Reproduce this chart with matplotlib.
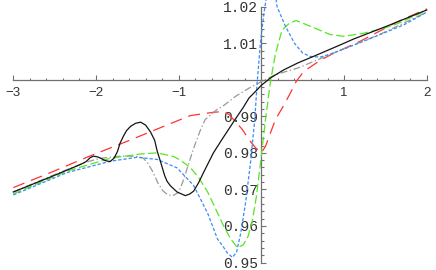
import numpy as np
import matplotlib
matplotlib.use("Agg")
import matplotlib.pyplot as plt
from matplotlib.ticker import FixedLocator

# values
red_x = [-3.00, -2.55, -2.10, -1.62, -1.22, -0.86, -0.58, -0.47, -0.39, -0.23, -0.15, -0.07,
         0.00, 0.05, 0.17, 0.26, 0.34, 0.42, 0.50, 0.56, 0.71, 0.87, 1.20, 1.64, 2.00]
red_y = [0.9705, 0.9746, 0.9789, 0.9832, 0.9869, 0.9902, 0.9911, 0.9913, 0.9905, 0.9864, 0.9836, 0.9814,
         0.9800, 0.9818, 0.9891, 0.9926, 0.9959, 0.9995, 1.0019, 1.0030, 1.0053, 1.0072, 1.0106, 1.0158, 1.0194]

black_x = [-3.00, -2.55, -2.19, -2.12, -2.07, -2.03, -1.98, -1.95, -1.89, -1.83, -1.78, -1.74, -1.71,
           -1.67, -1.63, -1.58, -1.52, -1.46, -1.40, -1.34, -1.29, -1.26, -1.22, -1.17, -1.14, -1.10,
           -1.02, -0.92, -0.87, -0.82, -0.76, -0.70, -0.58, -0.47, -0.31, -0.22, -0.15, -0.05, 0.00,
           0.11, 0.27, 0.44, 0.63, 0.96, 1.11, 1.52, 2.00]
black_y = [0.9693, 0.9734, 0.9768, 0.9776, 0.9787, 0.9791, 0.9789, 0.9786, 0.9779, 0.9776, 0.9786, 0.9804, 0.9826,
           0.9845, 0.9861, 0.9873, 0.9881, 0.9884, 0.9876, 0.9857, 0.9834, 0.9805, 0.9776, 0.9738, 0.9722, 0.9710,
           0.9693, 0.9683, 0.9687, 0.9695, 0.9718, 0.9746, 0.9800, 0.9839, 0.9894, 0.9924, 0.9950, 0.9973, 0.9985,
           1.0005, 1.0027, 1.0046, 1.0064, 1.0096, 1.0111, 1.0147, 1.0191]

gray_x = [-3.00, -2.55, -2.13, -1.95, -1.71, -1.52, -1.43, -1.37, -1.31, -1.25, -1.19, -1.13, -1.07,
          -1.00, -0.94, -0.89, -0.82, -0.74, -0.68, -0.53, -0.47, -0.31, -0.15, 0.00, 0.17, 0.44,
          0.63, 0.96, 1.44, 2.00]
gray_y = [0.9693, 0.9736, 0.9774, 0.9785, 0.9791, 0.9791, 0.9786, 0.9771, 0.9747, 0.9717, 0.9696, 0.9685, 0.9683,
          0.9692, 0.9727, 0.9763, 0.9812, 0.9861, 0.9891, 0.9920, 0.9927, 0.9955, 0.9977, 0.9995, 1.0014, 1.0032,
          1.0050, 1.0081, 1.0125, 1.0185]

green_x = [-3.00, -2.35, -1.83, -1.46, -1.26, -1.06, -0.98, -0.86, -0.76, -0.65, -0.52, -0.47, -0.37,
           -0.29, -0.22, -0.16, -0.11, -0.06, -0.01, 0.05, 0.11, 0.17, 0.25, 0.34, 0.42, 0.50, 0.67,
           0.83, 0.99, 1.23, 1.48, 1.64, 2.00]
green_y = [0.9688, 0.9750, 0.9785, 0.9797, 0.9800, 0.9790, 0.9780, 0.9760, 0.9733, 0.9693, 0.9631, 0.9606, 0.9564,
           0.9541, 0.9548, 0.9572, 0.9613, 0.9681, 0.9774, 0.9891, 0.9995, 1.0071, 1.0136, 1.0155, 1.0162, 1.0155, 1.0139,
           1.0124, 1.0119, 1.0127, 1.0141, 1.0153, 1.0190]

blue_x = [-3.00, -2.35, -1.83, -1.50, -1.26, -1.02, -0.82, -0.65, -0.53, -0.47, -0.41, -0.35, -0.30,
          -0.25, -0.19, -0.13, -0.08, -0.05, -0.01, 0.03, 0.06, 0.09, 0.12, 0.16, 0.19, 0.29, 0.40,
          0.50, 0.59, 0.71, 0.83, 0.96, 1.32, 1.72, 2.00]
blue_y = [0.9685, 0.9746, 0.9777, 0.9788, 0.9782, 0.9759, 0.9711, 0.9635, 0.9564, 0.9546, 0.9526, 0.9514, 0.9528,
          0.9580, 0.9665, 0.9776, 0.9891, 0.9995, 1.0104, 1.0180, 1.0225, 1.0250, 1.0262, 1.0250, 1.0200, 1.0147, 1.0100,
          1.0073, 1.0064, 1.0062, 1.0070, 1.0081, 1.0113, 1.0150, 1.0185]

x_ticks = [-3, -2, -1, 1, 2]
x_tick_labels = ["\u22123", "\u22122", "\u22121", "1", "2"]
y_ticks = [0.95, 0.96, 0.97, 0.98, 0.99, 1.01, 1.02]
y_tick_labels = ["0.95", "0.96", "0.97", "0.98", "0.99", "1.01", "1.02"]

plt.rcParams['lines.scale_dashes'] = False

fig = plt.figure(figsize=(4.36, 2.70), dpi=100)
ax = fig.add_axes([0, 0, 1, 1])
ax.set_xlim(-3.161, 2.112)
ax.set_ylim(0.94795, 1.02183)

lw = 0.9
ax.plot(red_x, red_y, color='#ff3333', lw=lw, dashes=(8.6, 5.0), zorder=3)
ax.plot(gray_x, gray_y, color='#999999', lw=lw, dashes=(5.0, 1.8, 1.0, 1.8), zorder=3)
ax.plot(green_x, green_y, color='#55e622', lw=lw, dashes=(6.0, 2.5), zorder=3)
ax.plot(blue_x, blue_y, color='#3a8cf5', lw=lw, dashes=(2.4, 1.4), zorder=3)
ax.plot(black_x, black_y, color='#141414', lw=lw, zorder=4)

for s in ['top', 'right']:
    ax.spines[s].set_visible(False)
ax.spines['left'].set_position(('data', 0))
ax.spines['bottom'].set_position(('data', 1.0))
ax.spines['left'].set_bounds(0.95, 1.02)
ax.spines['bottom'].set_bounds(-3, 2)
for s in ['left', 'bottom']:
    ax.spines[s].set_color('#707070')
    ax.spines[s].set_linewidth(0.9)
    ax.spines[s].set_zorder(2)

ax.set_xticks(x_ticks)
ax.set_xticklabels(x_tick_labels)
ax.set_yticks(y_ticks)
ax.set_yticklabels(y_tick_labels)
ax.xaxis.set_minor_locator(FixedLocator(np.arange(-3, 2.001, 0.2)))
ax.yaxis.set_minor_locator(FixedLocator(np.arange(0.95, 1.0201, 0.002)))

ax.tick_params(axis='x', which='both', direction='in', color='#707070', width=0.8,
               labelsize=9.5, labelcolor='#333333', pad=5.0, labelfontfamily='Liberation Sans')
ax.tick_params(axis='x', which='major', length=3.3)
ax.tick_params(axis='x', which='minor', length=1.8)
ax.tick_params(axis='y', which='both', direction='in', color='#707070', width=0.8,
               labelsize=10.5, labelcolor='#333333', pad=2.5, labelfontfamily='Liberation Mono')
ax.tick_params(axis='y', which='major', length=3.5)
ax.tick_params(axis='y', which='minor', length=2.0)

fig.savefig("out.png", dpi=100)
